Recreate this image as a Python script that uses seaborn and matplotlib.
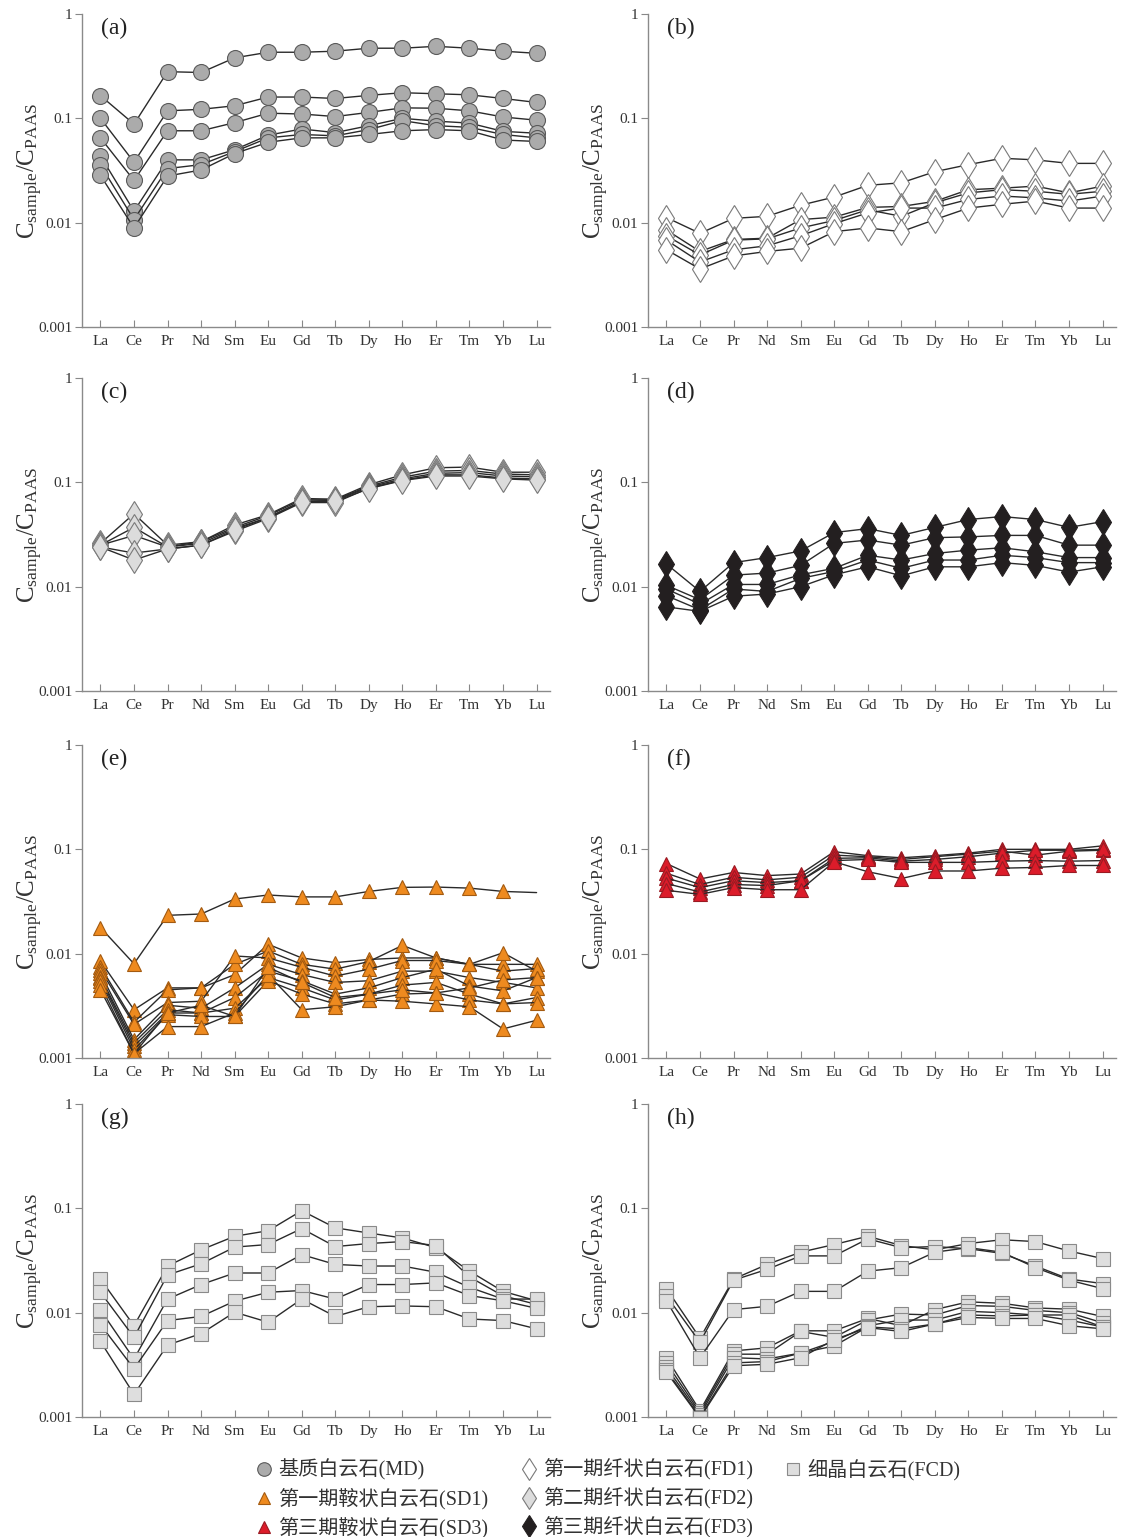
import numpy as np
import matplotlib
matplotlib.use("Agg")
import matplotlib.pyplot as plt
from matplotlib.lines import Line2D
import seaborn as sns

sns.set_style("ticks")
plt.rcParams["font.family"] = ["Liberation Serif", "Noto Sans CJK SC"]
plt.rcParams["mathtext.fontset"] = "custom"
plt.rcParams["mathtext.rm"] = "Liberation Serif"

ree = ["La", "Ce", "Pr", "Nd", "Sm", "Eu", "Gd", "Tb", "Dy", "Ho", "Er", "Tm", "Yb", "Lu"]

# (a) 基质白云石 MD
md = [
    [0.165, 0.088, 0.28, 0.275, 0.38, 0.43, 0.43, 0.44, 0.47, 0.47, 0.49, 0.47, 0.44, 0.42],
    [0.10, 0.038, 0.118, 0.122, 0.132, 0.16, 0.16, 0.155, 0.166, 0.176, 0.172, 0.168, 0.155, 0.142],
    [0.065, 0.0254, 0.076, 0.076, 0.091, 0.112, 0.11, 0.104, 0.114, 0.126, 0.125, 0.118, 0.103, 0.096],
    [0.0436, 0.0129, 0.040, 0.040, 0.050, 0.069, 0.079, 0.073, 0.085, 0.100, 0.094, 0.090, 0.075, 0.072],
    [0.0357, 0.0107, 0.033, 0.036, 0.048, 0.065, 0.070, 0.068, 0.078, 0.095, 0.085, 0.082, 0.070, 0.065],
    [0.0284, 0.0089, 0.028, 0.032, 0.046, 0.059, 0.065, 0.065, 0.070, 0.076, 0.078, 0.076, 0.062, 0.060],
]

# (b) 第一期纤状白云石 FD1
fd1 = [
    [0.0112, 0.0079, 0.011, 0.0115, 0.0147, 0.0176, 0.0228, 0.0241, 0.0308, 0.036, 0.0414, 0.040, 0.037, 0.037],
    [0.0085, 0.0053, 0.0069, 0.0071, 0.0107, 0.0113, 0.014, 0.0143, 0.016, 0.0207, 0.0214, 0.0224, 0.0193, 0.0224],
    [0.0075, 0.0049, 0.0068, 0.0070, 0.0089, 0.0105, 0.0133, 0.0115, 0.0155, 0.0193, 0.0207, 0.020, 0.0187, 0.020],
    [0.0068, 0.0042, 0.0055, 0.0060, 0.0075, 0.0098, 0.0124, 0.0138, 0.0138, 0.0167, 0.018, 0.0173, 0.0161, 0.018],
    [0.0055, 0.0036, 0.0048, 0.0053, 0.0057, 0.0082, 0.0089, 0.0082, 0.0107, 0.0138, 0.015, 0.0161, 0.0138, 0.0138],
]

# (c) 第二期纤状白云石 FD2
fd2 = [
    [0.026, 0.050, 0.025, 0.027, 0.039, 0.049, 0.070, 0.069, 0.095, 0.118, 0.138, 0.140, 0.125, 0.125],
    [0.025, 0.037, 0.024, 0.027, 0.037, 0.048, 0.068, 0.068, 0.092, 0.112, 0.128, 0.130, 0.120, 0.118],
    [0.025, 0.031, 0.024, 0.026, 0.036, 0.046, 0.066, 0.067, 0.090, 0.108, 0.122, 0.124, 0.115, 0.113],
    [0.024, 0.021, 0.023, 0.025, 0.034, 0.045, 0.064, 0.064, 0.088, 0.105, 0.118, 0.118, 0.110, 0.108],
    [0.024, 0.018, 0.023, 0.025, 0.035, 0.046, 0.065, 0.066, 0.087, 0.104, 0.115, 0.115, 0.108, 0.105],
]

# (d) 第三期纤状白云石 FD3
fd3 = [
    [0.0165, 0.009, 0.017, 0.019, 0.022, 0.033, 0.036, 0.031, 0.037, 0.044, 0.047, 0.044, 0.037, 0.042],
    [0.0103, 0.0075, 0.0129, 0.0135, 0.016, 0.026, 0.028, 0.025, 0.0295, 0.030, 0.031, 0.031, 0.025, 0.025],
    [0.0095, 0.0068, 0.0105, 0.0105, 0.013, 0.015, 0.020, 0.018, 0.0208, 0.0224, 0.0236, 0.0216, 0.019, 0.019],
    [0.0082, 0.0060, 0.0095, 0.0090, 0.012, 0.014, 0.018, 0.015, 0.018, 0.018, 0.020, 0.019, 0.017, 0.017],
    [0.0064, 0.0058, 0.0081, 0.0085, 0.010, 0.013, 0.0155, 0.0127, 0.0155, 0.0155, 0.017, 0.016, 0.0138, 0.0155],
]

# (e) 第一期鞍状白云石 SD1 (first row has no symbol at Lu)
sd1 = [
    [0.0178, 0.008, 0.0233, 0.024, 0.0334, 0.0365, 0.035, 0.035, 0.0395, 0.0432, 0.0435, 0.0425, 0.0395, 0.0385],
    [0.0085, 0.0029, 0.0047, 0.0047, 0.0063, 0.0123, 0.0091, 0.0082, 0.0088, 0.0091, 0.0091, 0.0079, 0.0079, 0.0079],
    [0.0075, 0.0022, 0.0045, 0.0047, 0.0079, 0.0106, 0.0079, 0.0071, 0.0084, 0.012, 0.0091, 0.0079, 0.0102, 0.0068],
    [0.0070, 0.0021, 0.0034, 0.0035, 0.0095, 0.0091, 0.0074, 0.0061, 0.0071, 0.0086, 0.0086, 0.0079, 0.0068, 0.0072],
    [0.0065, 0.0015, 0.0032, 0.0030, 0.0047, 0.0079, 0.0063, 0.0053, 0.0055, 0.0068, 0.0068, 0.0059, 0.0053, 0.0047],
    [0.0060, 0.0014, 0.0029, 0.0027, 0.0038, 0.0068, 0.0055, 0.0041, 0.0047, 0.0059, 0.0071, 0.0049, 0.0044, 0.0059],
    [0.0058, 0.0013, 0.0027, 0.0027, 0.0030, 0.0059, 0.0047, 0.0036, 0.0041, 0.0050, 0.0053, 0.0041, 0.0033, 0.0038],
    [0.0055, 0.0012, 0.0026, 0.0025, 0.0025, 0.0055, 0.0041, 0.0033, 0.0036, 0.0041, 0.0042, 0.0036, 0.0033, 0.0034],
    [0.0050, 0.0011, 0.0020, 0.0020, 0.0027, 0.0063, 0.0029, 0.0031, 0.0036, 0.0035, 0.0033, 0.0031, 0.0019, 0.0023],
    [0.0045, 0.0011, 0.0027, 0.0032, 0.0025, 0.0074, 0.0053, 0.0038, 0.0041, 0.0045, 0.0042, 0.0047, 0.0056, 0.0059],
]

# (f) 第三期鞍状白云石 SD3
sd3 = [
    [0.073, 0.052, 0.060, 0.056, 0.058, 0.095, 0.087, 0.083, 0.087, 0.092, 0.100, 0.100, 0.100, 0.108],
    [0.059, 0.046, 0.054, 0.051, 0.054, 0.088, 0.085, 0.080, 0.085, 0.090, 0.096, 0.088, 0.096, 0.098],
    [0.053, 0.043, 0.050, 0.048, 0.050, 0.082, 0.083, 0.077, 0.080, 0.085, 0.092, 0.098, 0.098, 0.100],
    [0.047, 0.039, 0.046, 0.045, 0.050, 0.078, 0.080, 0.075, 0.075, 0.075, 0.077, 0.078, 0.077, 0.078],
    [0.0405, 0.037, 0.043, 0.041, 0.041, 0.076, 0.061, 0.0525, 0.062, 0.062, 0.066, 0.067, 0.070, 0.070],
]

# (g) 细晶白云石 FCD
fcd_g = [
    [0.021, 0.0075, 0.028, 0.040, 0.054, 0.061, 0.095, 0.065, 0.058, 0.052, 0.042, 0.025, 0.016, 0.013],
    [0.0157, 0.0058, 0.023, 0.0294, 0.0425, 0.045, 0.064, 0.043, 0.046, 0.048, 0.044, 0.022, 0.0145, 0.012],
    [0.0106, 0.0036, 0.0135, 0.0186, 0.024, 0.024, 0.036, 0.029, 0.028, 0.028, 0.0244, 0.0175, 0.0135, 0.0135],
    [0.0077, 0.0029, 0.0084, 0.0092, 0.0129, 0.0157, 0.0163, 0.0135, 0.0186, 0.0186, 0.0193, 0.0146, 0.013, 0.011],
    [0.0053, 0.00165, 0.0049, 0.0063, 0.0101, 0.0081, 0.0135, 0.0092, 0.0114, 0.0116, 0.0114, 0.0087, 0.0084, 0.007],
]

# (h) 细晶白云石 FCD
fcd_h = [
    [0.017, 0.0057, 0.021, 0.029, 0.038, 0.045, 0.054, 0.044, 0.040, 0.046, 0.050, 0.048, 0.039, 0.033],
    [0.0145, 0.0052, 0.0205, 0.026, 0.035, 0.035, 0.051, 0.042, 0.043, 0.041, 0.037, 0.028, 0.021, 0.019],
    [0.013, 0.0037, 0.0107, 0.0115, 0.016, 0.016, 0.025, 0.027, 0.038, 0.042, 0.038, 0.027, 0.0205, 0.017],
    [0.0037, 0.00115, 0.0043, 0.0046, 0.0067, 0.0067, 0.0088, 0.0075, 0.0107, 0.0127, 0.0123, 0.0111, 0.0108, 0.0092],
    [0.0033, 0.0011, 0.0040, 0.0040, 0.0066, 0.0058, 0.0085, 0.0097, 0.0095, 0.0117, 0.0115, 0.0105, 0.0100, 0.0080],
    [0.0030, 0.00105, 0.0037, 0.0036, 0.0041, 0.0053, 0.0075, 0.0085, 0.0085, 0.0103, 0.0100, 0.0095, 0.0095, 0.0073],
    [0.0028, 0.0010, 0.0033, 0.0034, 0.0041, 0.0048, 0.0073, 0.0070, 0.0078, 0.0095, 0.0093, 0.0095, 0.0085, 0.0073],
    [0.0027, 0.00098, 0.0031, 0.0032, 0.0037, 0.0055, 0.0072, 0.0066, 0.0078, 0.0090, 0.0088, 0.0088, 0.0075, 0.0070],
]

# marker styles per rock type
styles = {
    "MD": dict(marker="o", ms=11.5, mfc="#ababab", mec="#5a5a5a"),
    "FD1": dict(marker="d", ms=13.5, mfc="white", mec="#7a7a7a"),
    "FD2": dict(marker="d", ms=13.5, mfc="#dcdcdc", mec="#7a7a7a"),
    "FD3": dict(marker="d", ms=13.5, mfc="#231f20", mec="#231f20"),
    "SD1": dict(marker="^", ms=10.5, mfc="#ee8a1f", mec="#a35a10"),
    "SD3": dict(marker="^", ms=10.5, mfc="#dc1c2a", mec="#9a1a22"),
    "FCD": dict(marker="s", ms=10, mfc="#dedede", mec="#8a8a8a"),
}

panels = [
    ("(a)", md, "MD"), ("(b)", fd1, "FD1"),
    ("(c)", fd2, "FD2"), ("(d)", fd3, "FD3"),
    ("(e)", sd1, "SD1"), ("(f)", sd3, "SD3"),
    ("(g)", fcd_g, "FCD"), ("(h)", fcd_h, "FCD"),
]

W, H = 1121, 1537
fig = plt.figure(figsize=(W / 100, H / 100), dpi=100)
lefts = [82, 648]
tops = [14, 378, 745, 1104]
aw, ah = 468, 313

x = np.arange(len(ree))
for i, (tag, rows, key) in enumerate(panels):
    col, row = i % 2, i // 2
    ax = fig.add_axes([lefts[col] / W, 1 - (tops[row] + ah) / H, aw / W, ah / H])
    st = styles[key]
    for j, vals in enumerate(rows):
        kw = {}
        if key == "SD1" and j == 0:
            kw["markevery"] = list(range(len(ree) - 1))
        sns.lineplot(x=x, y=vals, ax=ax, color="#2a2a2a", lw=1.0, errorbar=None,
                     marker=st["marker"], markersize=st["ms"],
                     markerfacecolor=st["mfc"], markeredgecolor=st["mec"],
                     markeredgewidth=0.8, **kw)
    ax.set_yscale("log")
    ax.set_ylim(0.001, 1)
    ax.set_xlim(-0.55, 13.4)
    ax.set_yticks([0.001, 0.01, 0.1, 1])
    ax.set_yticklabels(["0.001", "0.01", "0.1", "1"])
    ax.minorticks_off()
    ax.set_xticks(x)
    ax.set_xticklabels(ree)
    ax.tick_params(axis="x", direction="in", length=5, width=0.8, color="#888888",
                   labelsize=11, labelcolor="#333333", pad=6)
    ax.tick_params(axis="y", direction="out", length=5, width=0.8, color="#888888",
                   labelsize=11, labelcolor="#333333", pad=2)
    for s in ["top", "right"]:
        ax.spines[s].set_visible(False)
    for s in ["left", "bottom"]:
        ax.spines[s].set_color("#8a8a8a")
        ax.spines[s].set_linewidth(1.0)
    ax.set_xlabel("")
    ax.set_ylabel(r"$\mathrm{C_{sample}/C_{PAAS}}$", fontsize=18, color="#333333", labelpad=-5)
    ax.text(0.04, 0.955, tag, transform=ax.transAxes, fontsize=17,
            ha="left", va="center", color="#222222")

handles, labels = [], []
legend_items = [
    ("MD", "基质白云石(MD)"), ("SD1", "第一期鞍状白云石(SD1)"), ("SD3", "第三期鞍状白云石(SD3)"),
    ("FD1", "第一期纤状白云石(FD1)"), ("FD2", "第二期纤状白云石(FD2)"), ("FD3", "第三期纤状白云石(FD3)"),
    ("FCD", "细晶白云石(FCD)"),
]
for key, lab in legend_items:
    st = styles[key]
    handles.append(Line2D([], [], ls="none", marker=st["marker"], markersize=st["ms"] * 0.85,
                          markerfacecolor=st["mfc"], markeredgecolor=st["mec"], markeredgewidth=0.8))
    labels.append(lab)
# two empty slots so the third column holds only one entry
for _ in range(2):
    handles.append(Line2D([], [], ls="none"))
    labels.append("")
fig.legend(handles, labels, ncol=3, loc="upper left", bbox_to_anchor=(256 / W, 1 - 1459 / H),
           frameon=False, fontsize=14.5, handlelength=0.8, handletextpad=0.3,
           columnspacing=1.6, labelspacing=0.37, borderpad=0, borderaxespad=0,
           labelcolor="#333333")

fig.savefig("out.png", dpi=100, facecolor="white")
